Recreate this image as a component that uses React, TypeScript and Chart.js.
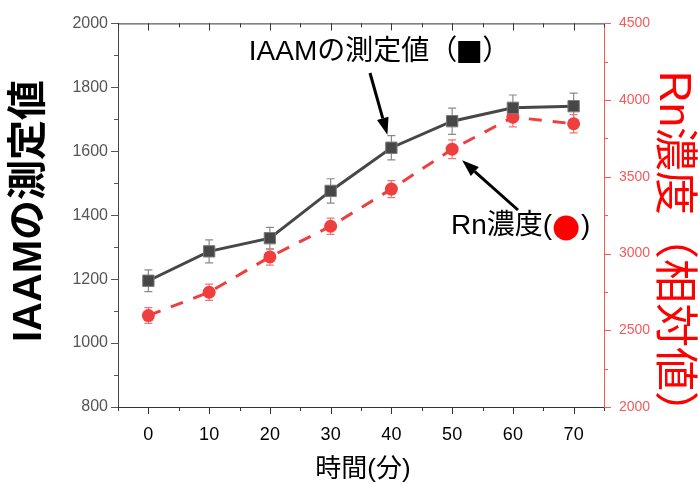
import React, { useEffect, useRef } from "react";
import { Chart, registerables } from "chart.js";

Chart.register(...registerables);

const times = [0, 10, 20, 30, 40, 50, 60, 70];
const iaamValues = [1195, 1287, 1328, 1476, 1611, 1694, 1736, 1741];
const iaamErrors = [34, 36, 34, 38, 38, 41, 40, 41];
const rnValues = [2596, 2748, 2978, 3178, 3420, 3680, 3889, 3846];
const rnErrors = [51, 53, 53, 53, 55, 61, 64, 60];

const xTicks = [0, 10, 20, 30, 40, 50, 60, 70];
const xMinorTicks = [-5, 5, 15, 25, 35, 45, 55, 65, 75];
const yLeftTicks = [800, 1000, 1200, 1400, 1600, 1800, 2000];
const yLeftMinor = [900, 1100, 1300, 1500, 1700, 1900];
const yRightTicks = [2000, 2500, 3000, 3500, 4000, 4500];
const yRightMinor = [2250, 2750, 3250, 3750, 4250];

const xTitle = "時間(分)";
const yLeftTitle = "IAAMの測定値";
const yRightTitle = "Rn濃度（相対値）";
const iaamLabelStart = "IAAMの測定値（";
const iaamLabelEnd = "）";
const rnLabel = "Rn濃度(";
const rnLabelEnd = ")";

const FONT = '"Liberation Sans", "Noto Sans CJK JP", sans-serif';
const DARK = "#474747";
const RED = "#ef3e3e";
const RED_AXIS = "#f55a5a";

function arrow(ctx: CanvasRenderingContext2D, x1: number, y1: number, x2: number, y2: number) {
  const ang = Math.atan2(y2 - y1, x2 - x1);
  const hl = 17;
  const hw = 6;
  const bx = x2 - hl * Math.cos(ang);
  const by = y2 - hl * Math.sin(ang);
  ctx.save();
  ctx.strokeStyle = "#000";
  ctx.fillStyle = "#000";
  ctx.lineWidth = 3;
  ctx.beginPath();
  ctx.moveTo(x1, y1);
  ctx.lineTo(bx, by);
  ctx.stroke();
  ctx.beginPath();
  ctx.moveTo(x2, y2);
  ctx.lineTo(bx + hw * Math.sin(ang), by - hw * Math.cos(ang));
  ctx.lineTo(bx - hw * Math.sin(ang), by + hw * Math.cos(ang));
  ctx.closePath();
  ctx.fill();
  ctx.restore();
}

const errorBarPlugin = {
  id: "errorBars",
  beforeDatasetsDraw(chart: any) {
    const ctx = chart.ctx;
    const sets = [
      { idx: 0, errs: iaamErrors, vals: iaamValues, axis: "y", color: "#8a8a8a" },
      { idx: 1, errs: rnErrors, vals: rnValues, axis: "y2", color: "#f27575" },
    ];
    ctx.save();
    for (const s of sets) {
      const meta = chart.getDatasetMeta(s.idx);
      const sc = chart.scales[s.axis];
      ctx.strokeStyle = s.color;
      ctx.lineWidth = 1.2;
      meta.data.forEach((pt: any, j: number) => {
        const x = pt.x;
        const yt = sc.getPixelForValue(s.vals[j] + s.errs[j]);
        const yb = sc.getPixelForValue(s.vals[j] - s.errs[j]);
        ctx.beginPath();
        ctx.moveTo(x, yt);
        ctx.lineTo(x, yb);
        ctx.moveTo(x - 4, yt);
        ctx.lineTo(x + 4, yt);
        ctx.moveTo(x - 4, yb);
        ctx.lineTo(x + 4, yb);
        ctx.stroke();
      });
    }
    ctx.restore();
  },
};

const decorPlugin = {
  id: "decor",
  afterDraw(chart: any) {
    const ctx = chart.ctx;
    const { left, right, top, bottom } = chart.chartArea;
    const xs = chart.scales.x;
    const yl = chart.scales.y;
    const yr = chart.scales.y2;
    ctx.save();
    // top border
    ctx.strokeStyle = "#333";
    ctx.lineWidth = 1;
    ctx.beginPath();
    ctx.moveTo(left, top + 0.5);
    ctx.lineTo(right, top + 0.5);
    ctx.stroke();
    // x ticks bottom (outward) and top (inward)
    ctx.beginPath();
    xTicks.forEach((v) => {
      const px = Math.round(xs.getPixelForValue(v)) + 0.5;
      ctx.moveTo(px, bottom);
      ctx.lineTo(px, bottom + 7);
      ctx.moveTo(px, top);
      ctx.lineTo(px, top + 7);
    });
    xMinorTicks.forEach((v) => {
      const px = Math.round(xs.getPixelForValue(v)) + 0.5;
      ctx.moveTo(px, bottom);
      ctx.lineTo(px, bottom + 4);
      ctx.moveTo(px, top);
      ctx.lineTo(px, top + 4);
    });
    ctx.stroke();
    // left ticks
    ctx.strokeStyle = "#555";
    ctx.beginPath();
    yLeftTicks.forEach((v) => {
      const py = Math.round(yl.getPixelForValue(v)) + 0.5;
      ctx.moveTo(left, py);
      ctx.lineTo(left - 7, py);
    });
    yLeftMinor.forEach((v) => {
      const py = Math.round(yl.getPixelForValue(v)) + 0.5;
      ctx.moveTo(left, py);
      ctx.lineTo(left - 4, py);
    });
    ctx.stroke();
    // right ticks
    ctx.strokeStyle = RED_AXIS;
    ctx.beginPath();
    yRightTicks.forEach((v) => {
      const py = Math.round(yr.getPixelForValue(v)) + 0.5;
      ctx.moveTo(right, py);
      ctx.lineTo(right + 7, py);
    });
    yRightMinor.forEach((v) => {
      const py = Math.round(yr.getPixelForValue(v)) + 0.5;
      ctx.moveTo(right, py);
      ctx.lineTo(right + 4, py);
    });
    ctx.stroke();

    // axis titles
    ctx.fillStyle = "#000";
    ctx.textAlign = "center";
    ctx.textBaseline = "middle";
    ctx.font = `26px ${FONT}`;
    ctx.fillText(xTitle, (left + right) / 2 + 2, 470);

    ctx.save();
    ctx.translate(30, 211);
    ctx.rotate(-Math.PI / 2);
    ctx.font = `bold 40px ${FONT}`;
    ctx.fillText(yLeftTitle, 0, 0);
    ctx.restore();

    ctx.save();
    ctx.translate(672, 253);
    ctx.rotate(Math.PI / 2);
    ctx.fillStyle = "#ff0000";
    ctx.font = `44px ${FONT}`;
    ctx.fillText(yRightTitle, 0, 0);
    ctx.restore();

    // IAAM annotation
    ctx.font = `28px ${FONT}`;
    ctx.fillStyle = "#000";
    ctx.textAlign = "left";
    const w1 = ctx.measureText(iaamLabelStart).width;
    const w2 = ctx.measureText(iaamLabelEnd).width;
    const sq = 22;
    const total = w1 + sq + 4 + w2;
    const sx = 380 - total / 2;
    ctx.fillText(iaamLabelStart, sx, 52);
    ctx.fillRect(sx + w1 + 1, 52 - sq / 2, sq, sq);
    ctx.fillText(iaamLabelEnd, sx + w1 + sq + 3, 52);

    // Rn annotation
    ctx.fillText(rnLabel, 451, 226);
    const w = ctx.measureText(rnLabel).width;
    ctx.fillStyle = "#ff0000";
    ctx.beginPath();
    ctx.arc(451 + w + 14, 228, 12.5, 0, Math.PI * 2);
    ctx.fill();
    ctx.fillStyle = "#000";
    ctx.fillText(rnLabelEnd, 451 + w + 29, 226);

    const pI = chart.getDatasetMeta(0).data[4];
    arrow(ctx, 370, 73, pI.x - 4, pI.y - 13);
    const pR = chart.getDatasetMeta(1).data[5];
    arrow(ctx, 518, 210, pR.x + 10, pR.y + 11);
    ctx.restore();
  },
};

const plain = (v: any) => String(v);

export default function App() {
  const ref = useRef<HTMLCanvasElement | null>(null);
  useEffect(() => {
    if (!ref.current) return;
    const chart = new Chart(ref.current, {
      type: "line",
      data: {
        datasets: [
          {
            label: "IAAM",
            data: times.map((t, i) => ({ x: t, y: iaamValues[i] })),
            yAxisID: "y",
            borderColor: DARK,
            backgroundColor: DARK,
            borderWidth: 3,
            pointStyle: "rect",
            pointRadius: 8,
            pointBorderColor: "#7a7a7a",
            pointBorderWidth: 1,
            pointBackgroundColor: DARK,
            tension: 0,
          },
          {
            label: "Rn",
            data: times.map((t, i) => ({ x: t, y: rnValues[i] })),
            yAxisID: "y2",
            borderColor: RED,
            backgroundColor: RED,
            borderWidth: 3,
            borderDash: [13, 11],
            pointStyle: "circle",
            pointRadius: 6.5,
            pointBorderColor: RED,
            pointBorderWidth: 0,
            pointBackgroundColor: RED,
            tension: 0,
          },
        ],
      },
      options: {
        animation: false,
        responsive: false,
        maintainAspectRatio: false,
        layout: { padding: { top: 16, left: 0, right: 0, bottom: 0 } },
        plugins: { legend: { display: false }, tooltip: { enabled: false } },
        scales: {
          x: {
            type: "linear",
            position: "bottom",
            min: -5,
            max: 75,
            afterBuildTicks: (s: any) => {
              s.ticks = xTicks.map((v) => ({ value: v }));
            },
            afterFit: (s: any) => {
              s.height = 78;
            },
            grid: { display: false, drawTicks: false },
            border: { display: true, color: "#333", width: 1 },
            ticks: {
              autoSkip: false,
              maxRotation: 0,
              padding: 17,
              color: "#000",
              callback: plain,
              font: { family: FONT, size: 18 },
            },
          },
          y: {
            type: "linear",
            position: "left",
            min: 800,
            max: 2000,
            afterBuildTicks: (s: any) => {
              s.ticks = yLeftTicks.map((v) => ({ value: v }));
            },
            afterFit: (s: any) => {
              s.width = 118;
            },
            grid: { display: false, drawTicks: false },
            border: { display: true, color: "#444", width: 1 },
            ticks: {
              padding: 10,
              color: "#555",
              callback: plain,
              font: { family: FONT, size: 16 },
            },
          },
          y2: {
            type: "linear",
            position: "right",
            min: 2000,
            max: 4500,
            afterBuildTicks: (s: any) => {
              s.ticks = yRightTicks.map((v) => ({ value: v }));
            },
            afterFit: (s: any) => {
              s.width = 94;
            },
            grid: { display: false, drawTicks: false },
            border: { display: true, color: RED_AXIS, width: 1 },
            ticks: {
              padding: 15,
              color: RED_AXIS,
              callback: plain,
              font: { family: FONT, size: 14 },
            },
          },
        },
      },
      plugins: [errorBarPlugin, decorPlugin],
    } as any);
    return () => chart.destroy();
  }, []);
  return (
    <div style={{ position: "fixed", left: 0, top: 0, width: 698, height: 485, background: "#fff" }}>
      <canvas ref={ref} width={698} height={485} style={{ display: "block" }} />
    </div>
  );
}
